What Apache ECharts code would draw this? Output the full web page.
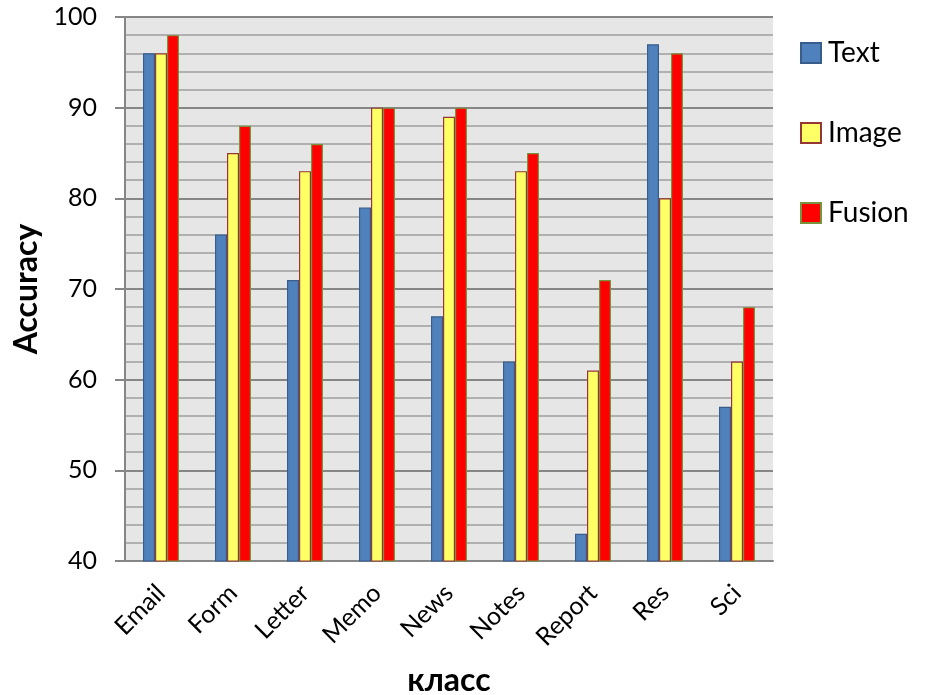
<!DOCTYPE html>
<html>
<head>
<meta charset="utf-8">
<script src="https://cdn.jsdelivr.net/npm/echarts@6/dist/echarts.min.js"></script>
<style>
  html, body { margin: 0; padding: 0; background: #fff; }
  #chart { width: 928px; height: 695px; }
</style>
</head>
<body>
<div id="chart"></div>
<script>
// Document classes and per-modality accuracy
const categories = ['Email', 'Form', 'Letter', 'Memo', 'News', 'Notes', 'Report', 'Res', 'Sci'];
const textAcc   = [96, 76, 71, 79, 67, 62, 43, 97, 57];
const imageAcc  = [96, 85, 83, 90, 89, 83, 61, 80, 62];
const fusionAcc = [98, 88, 86, 90, 90, 85, 71, 96, 68];
const yTicks = { min: 40, max: 100, step: 10 };

const FONT = 'Lato, "Open Sans", sans-serif';

function barSeries(name, data, fill, border) {
  return {
    name: name,
    type: 'bar',
    data: data,
    barWidth: 12,
    barGap: '0%',
    itemStyle: { color: fill, borderColor: border, borderWidth: 1.2 }
  };
}

const chart = echarts.init(document.getElementById('chart'));
chart.setOption({
  animation: false,
  textStyle: { fontFamily: FONT },
  grid: {
    left: 125, top: 17, right: 155, bottom: 134,
    outerBoundsMode: 'none',
    containLabel: false,
    show: true, backgroundColor: '#E6E6E6', borderWidth: 0
  },
  legend: {
    orient: 'vertical',
    left: 795, top: 33,
    icon: 'rect',
    itemWidth: 20, itemHeight: 20,
    itemGap: 50,
    textStyle: { fontSize: 28, lineHeight: 30, color: '#000', fontFamily: FONT, padding: [0, 0, 0, 2] },
    data: ['Text', 'Image', 'Fusion']
  },
  xAxis: {
    type: 'category',
    data: categories,
    name: 'класс',
    nameLocation: 'middle',
    nameGap: 104,
    nameTextStyle: { fontSize: 32, fontWeight: 'bold', color: '#000', fontFamily: FONT },
    axisLine: { lineStyle: { color: '#868686', width: 2 } },
    axisTick: { show: false },
    axisLabel: { rotate: 45, fontSize: 25, color: '#000', margin: 28, interval: 0 },
    splitLine: { show: false }
  },
  yAxis: {
    type: 'value',
    min: yTicks.min, max: yTicks.max, interval: yTicks.step,
    name: 'Accuracy',
    nameLocation: 'middle',
    nameGap: 75,
    nameRotate: 90,
    nameTextStyle: { fontSize: 32, fontWeight: 'bold', color: '#000', fontFamily: FONT },
    axisLine: { show: true, lineStyle: { color: '#868686', width: 2 } },
    axisTick: { show: true, length: 10, lineStyle: { color: '#868686', width: 2 } },
    axisLabel: { fontSize: 25, color: '#000', margin: 28 },
    splitLine: { show: true, lineStyle: { color: '#868686', width: 2 } },
    minorTick: { show: false, splitNumber: 5 },
    minorSplitLine: { show: true, lineStyle: { color: '#B0B0B0', width: 2 } }
  },
  series: [
    barSeries('Text', textAcc, '#4F81BD', '#385D8A'),
    barSeries('Image', imageAcc, '#FFFF66', '#953735'),
    barSeries('Fusion', fusionAcc, '#FF0000', '#77933C')
  ]
});
</script>
</body>
</html>
